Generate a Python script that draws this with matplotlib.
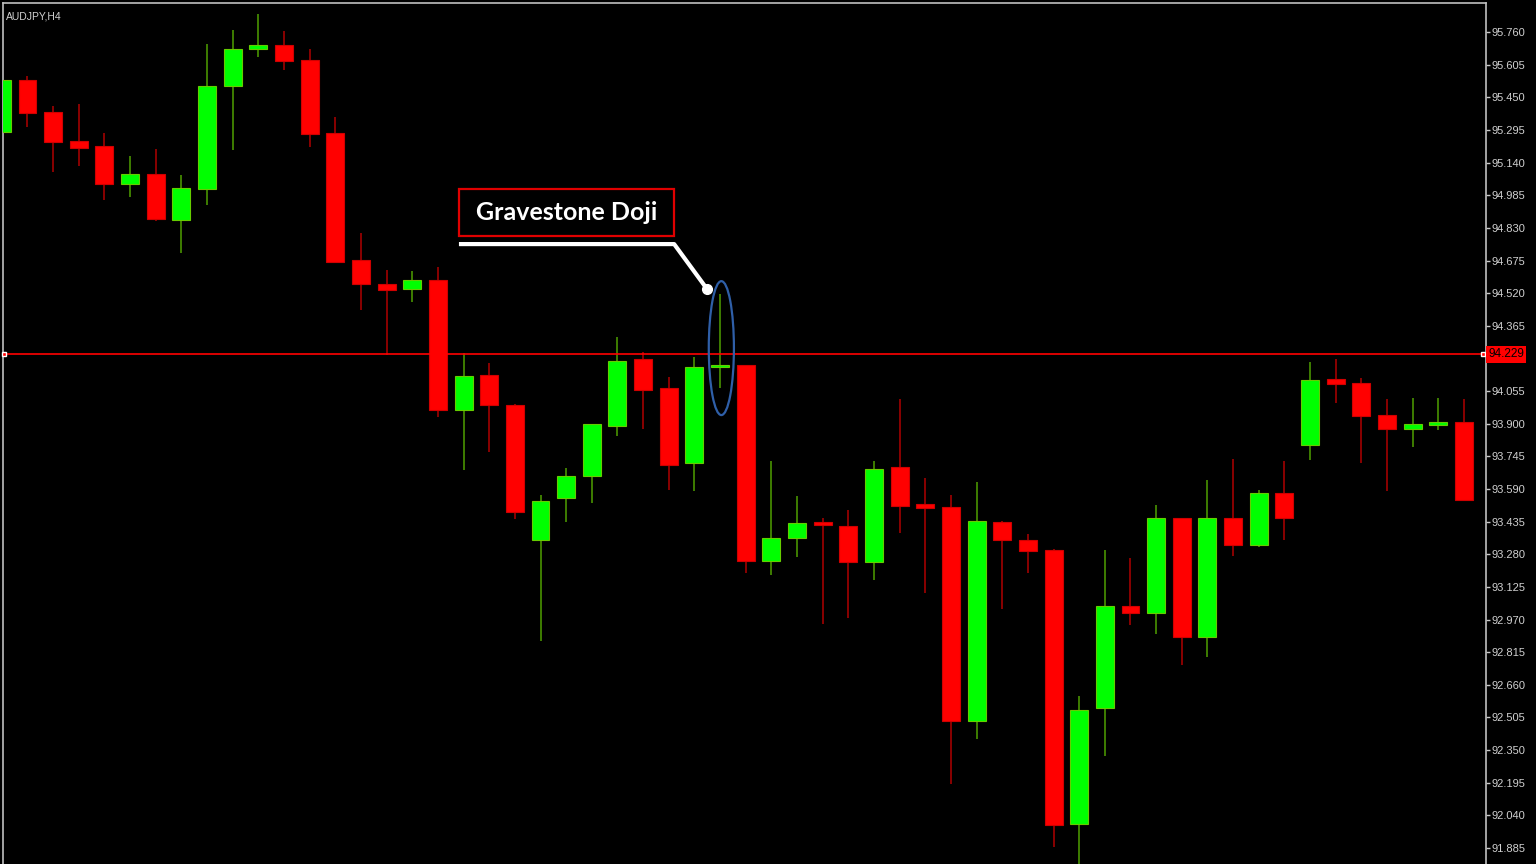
import matplotlib.pyplot as plt
import matplotlib.transforms as mtransforms
from matplotlib.patches import Ellipse, Rectangle

# AUDJPY H4 candles
opens = [95.287, 95.532, 95.380, 95.242, 95.219, 95.038, 95.086, 94.867, 95.014, 95.504,
         95.679, 95.698, 95.627, 95.280, 94.677, 94.565, 94.538, 94.584, 93.965, 94.131,
         93.989, 93.348, 93.548, 93.652, 93.890, 94.206, 94.068, 93.712, 94.168, 94.179,
         93.249, 93.356, 93.432, 93.416, 93.245, 93.693, 93.519, 93.503, 92.487, 93.435,
         93.348, 93.300, 91.998, 92.548, 93.036, 93.002, 93.451, 92.887, 93.453, 93.325,
         93.571, 93.799, 94.111, 94.092, 93.941, 93.876, 93.894, 93.909]
highs = [95.540, 95.551, 95.409, 95.418, 95.280, 95.171, 95.204, 95.081, 95.703, 95.769,
         95.845, 95.765, 95.679, 95.356, 94.806, 94.630, 94.625, 94.644, 94.236, 94.188,
         93.993, 93.561, 93.691, 93.900, 94.313, 94.240, 94.122, 94.217, 94.516, 94.180,
         93.724, 93.557, 93.453, 93.489, 93.724, 94.016, 93.642, 93.560, 93.623, 93.437,
         93.376, 93.303, 92.605, 93.300, 93.262, 93.512, 93.452, 93.633, 93.731, 93.585,
         93.724, 94.193, 94.207, 94.117, 94.019, 94.023, 94.023, 94.016]
lows = [95.280, 95.309, 95.095, 95.124, 94.962, 94.976, 94.862, 94.711, 94.938, 95.200,
        95.641, 95.580, 95.214, 94.665, 94.440, 94.226, 94.479, 93.933, 93.680, 93.767,
        93.447, 92.868, 93.433, 93.525, 93.843, 93.873, 93.586, 93.582, 94.069, 93.190,
        93.181, 93.268, 92.949, 92.979, 93.158, 93.379, 93.095, 92.188, 92.401, 93.021,
        93.190, 91.891, 91.800, 92.322, 92.945, 92.900, 92.753, 92.791, 93.273, 93.316,
        93.348, 93.726, 93.997, 93.712, 93.580, 93.789, 93.870, 93.537]
closes = [95.532, 95.375, 95.238, 95.209, 95.038, 95.086, 94.872, 95.019, 95.504, 95.679,
          95.698, 95.622, 95.276, 94.668, 94.562, 94.535, 94.584, 93.965, 94.126, 93.989,
          93.481, 93.533, 93.652, 93.898, 94.198, 94.058, 93.705, 94.169, 94.177, 93.249,
          93.359, 93.430, 93.417, 93.245, 93.685, 93.511, 93.501, 92.487, 93.439, 93.346,
          93.297, 91.994, 92.539, 93.036, 93.001, 93.451, 92.887, 93.453, 93.325, 93.571,
          93.451, 94.106, 94.090, 93.938, 93.876, 93.897, 93.909, 93.539]

price_ticks = [95.760, 95.605, 95.450, 95.295, 95.140, 94.985, 94.830, 94.675, 94.520,
               94.365, 94.210, 94.055, 93.900, 93.745, 93.590, 93.435, 93.280, 93.125,
               92.970, 92.815, 92.660, 92.505, 92.350, 92.195, 92.040, 91.885]
bid_price = 94.229
doji_index = 28
symbol_label = "AUDJPY,H4"
pattern_label = "Gravestone Doji"

fig = plt.figure(figsize=(15.36, 8.64), dpi=100, facecolor='black')
ax = fig.add_axes([3 / 1536, 0, 1483 / 1536, 861 / 864])
ax.set_facecolor('black')

x = list(range(len(opens)))
up = [c >= o for o, c in zip(opens, closes)]
body_bottom = [min(o, c) for o, c in zip(opens, closes)]
body_height = [max(abs(c - o), 0.008) for o, c in zip(opens, closes)]
wick_col = ['#4fa000' if u else '#b00000' for u in up]
fill_col = ['#00ff00' if u else '#ff0000' for u in up]
edge_col = ['#66cc00' if u else '#d00000' for u in up]

ax.vlines(x, lows, highs, colors=wick_col, linewidth=1.1, zorder=2)
ax.bar(x, body_height, bottom=body_bottom, width=0.7, color=fill_col,
       edgecolor=edge_col, linewidth=0.8, zorder=3)

ax.set_xlim(0.045, 57.86)
ax.set_ylim(91.809, 95.898)

# bid line
ax.axhline(bid_price, color='#ff0000', linewidth=1.2, zorder=4)
ax.plot([0.09, 57.76], [bid_price, bid_price], 's', ms=3.5, mfc='#ff0000',
        mec='white', mew=1, zorder=5, clip_on=False)

# price axis on the right; the 94.210 label sits under the bid box
ax.yaxis.tick_right()
ax.set_yticks(price_ticks)
ax.set_yticklabels(["" if abs(p - bid_price) < 0.05 else f"{p:.3f}" for p in price_ticks])
ax.tick_params(axis='y', colors='#c8c8c8', labelcolor='#d0d0d0', length=3,
               width=1, pad=1, labelsize=8)
for lab in ax.get_yticklabels():
    lab.set_fontfamily('Liberation Sans')
ax.set_xticks([])
for side in ['left', 'top', 'right']:
    ax.spines[side].set_color('#c0c0c0')
    ax.spines[side].set_linewidth(1.2)
ax.spines['bottom'].set_visible(False)

trans = mtransforms.blended_transform_factory(ax.transAxes, ax.transData)
ax.text(1.0015, bid_price, f"{bid_price:.3f}", transform=trans, fontsize=8.5,
        family='Liberation Sans', color='black', va='center', ha='left', zorder=6,
        bbox=dict(boxstyle='square,pad=0.2', facecolor='#ff0000', edgecolor='none'),
        clip_on=False)

ax.text(0.002, 0.99, symbol_label, transform=ax.transAxes, fontsize=7.5,
        family='Liberation Sans', color='#d0d0d0', va='top', ha='left')

# annotation
ax.add_patch(Ellipse((doji_index + 0.05, 94.259), 0.98, 0.636, fill=False,
                     edgecolor='#2f5fa8', linewidth=1.6, zorder=6))
ax.plot([17.82, 26.21, 27.49], [94.753, 94.753, 94.540], color='white',
        linewidth=3, solid_capstyle='butt', zorder=6)
ax.plot([27.49], [94.540], 'o', color='white', ms=7, zorder=7)
ax.add_patch(Rectangle((17.82, 94.791), 26.21 - 17.82, 95.015 - 94.791,
                       fill=True, facecolor='black', edgecolor='#e00000',
                       linewidth=1.6, zorder=6))
ax.text((17.82 + 26.21) / 2, (94.791 + 95.015) / 2, pattern_label, fontsize=18,
        family='Lato', fontweight='bold', color='white', ha='center',
        va='center', zorder=7)

fig.savefig('out.png', dpi=100, facecolor='black')
